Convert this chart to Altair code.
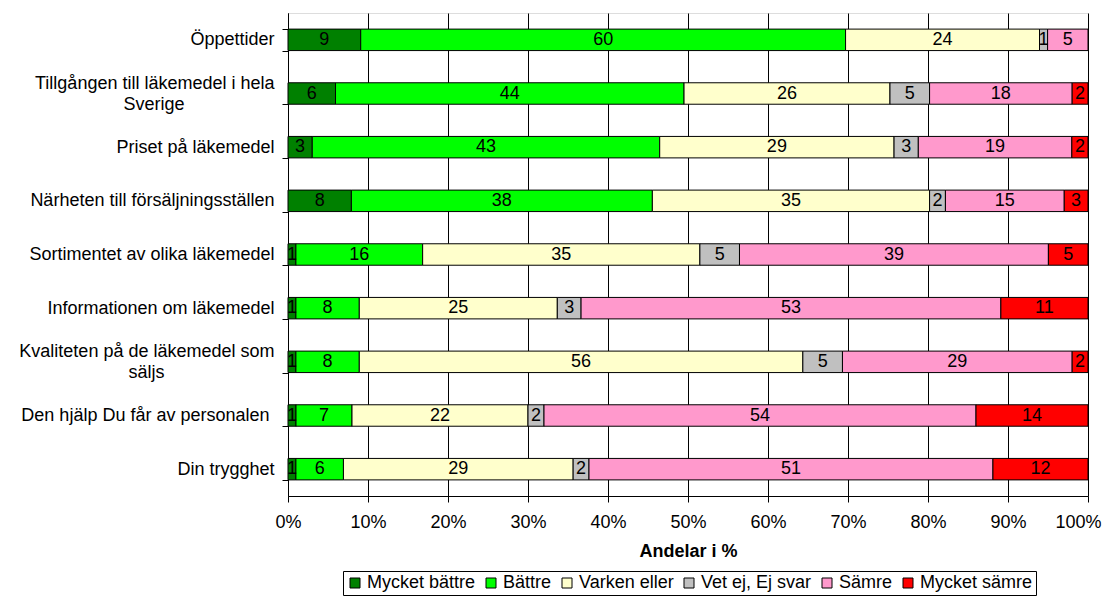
import altair as alt
import pandas as pd

NB = "\u00a0"
ZW = "\u200b"
FONT = "Liberation Sans"
FS = 18

categories = [
    "Öppettider",
    "Tillgången till läkemedel i hela\nSverige" + NB * 18 + ZW,
    "Priset på läkemedel",
    "Närheten till försäljningsställen",
    "Sortimentet av olika läkemedel",
    "Informationen om läkemedel",
    "Kvaliteten på de läkemedel som\nsäljs" + NB * 22 + ZW,
    "Den hjälp Du får av personalen" + NB + ZW,
    "Din trygghet",
]
series = ["Mycket bättre", "Bättre", "Varken eller", "Vet ej, Ej svar", "Sämre", "Mycket sämre"]
colors = ["#008000", "#00FF00", "#FFFFCC", "#C0C0C0", "#FF99CC", "#FF0000"]

mycket_battre = [9, 6, 3, 8, 1, 1, 1, 1, 1]
battre = [60, 44, 43, 38, 16, 8, 8, 7, 6]
varken_eller = [24, 26, 29, 35, 35, 25, 56, 22, 29]
vet_ej = [1, 5, 3, 2, 5, 3, 5, 2, 2]
samre = [5, 18, 19, 15, 39, 53, 29, 54, 51]
mycket_samre = [0, 2, 2, 3, 5, 11, 2, 14, 12]

x_ticks = [i / 10 for i in range(11)]

series_values = [mycket_battre, battre, varken_eller, vet_ej, samre, mycket_samre]
rows = []
for si, (name, vals) in enumerate(zip(series, series_values)):
    for ci, cat in enumerate(categories):
        rows.append({"category": cat, "series": name, "order": si, "value": vals[ci]})
df = pd.DataFrame(rows)

base = (
    alt.Chart(df)
    .transform_filter("datum.value > 0")
    .transform_stack(
        stack="value",
        groupby=["category"],
        as_=["x0", "x1"],
        offset="normalize",
        sort=[alt.SortField("order", order="ascending")],
    )
    .transform_calculate(mid="(datum.x0 + datum.x1) / 2")
)

multi_test = "isValid(datum.value) && indexof(datum.value, '\\n') >= 0"

y_scale = alt.Scale(domain=categories, paddingInner=0.6, paddingOuter=0.3)

y_enc = alt.Y(
    "category:N",
    sort=categories,
    scale=y_scale,
    axis=alt.Axis(
        title=None,
        labelExpr="isValid(datum.value) ? split(datum.value, '\\n') : ''",
        labelLineHeight=21,
        labelOffset={"condition": {"test": multi_test, "value": -10}, "value": 0},
        labelFont=FONT,
        labelFontSize=FS,
        labelColor="black",
        labelPadding=8,
        labelLimit=400,
        tickBand="extent",
        ticks=True,
        tickSize=6,
        tickColor="black",
        domainColor="black",
        grid=False,
    ),
)

x_scale = alt.Scale(domain=[0, 1], nice=False, zero=True)

bars = base.mark_bar(stroke="black", strokeWidth=1).encode(
    x=alt.X(
        "x0:Q",
        scale=x_scale,
        axis=alt.Axis(
            values=x_ticks,
            format=".0%",
            title="Andelar i %",
            titleFont=FONT,
            titleFontSize=FS,
            titleFontWeight="bold",
            titleColor="black",
            titlePadding=11,
            labelFont=FONT,
            labelFontSize=FS,
            labelColor="black",
            labelPadding=11,
            labelOffset={"condition": {"test": "datum.value >= 1", "value": -10}, "value": 0},
            tickSize=6,
            tickColor="black",
            domainColor="black",
            grid=True,
            gridColor="black",
            gridWidth=1,
            labelFlush=False,
        ),
    ),
    x2="x1:Q",
    y=y_enc,
    color=alt.Color(
        "series:N",
        scale=alt.Scale(domain=series, range=colors),
        sort=series,
        legend=alt.Legend(
            title=None,
            orient="none",
            legendX=55,
            legendY=558,
            direction="horizontal",
            columns=6,
            strokeColor="black",
            fillColor="white",
            padding=3,
            symbolType="square",
            symbolSize=100,
            symbolStrokeColor="black",
            symbolStrokeWidth=1,
            symbolOpacity=1,
            labelFont=FONT,
            labelFontSize=FS,
            labelColor="black",
            labelOffset=3,
            columnPadding=6,
        ),
    ),
)

labels = base.mark_text(
    font=FONT, fontSize=FS, color="black", align="center", baseline="middle"
).encode(
    x=alt.X("mid:Q", scale=x_scale),
    y=alt.Y("category:N", sort=categories, scale=y_scale),
    text=alt.Text("value:Q"),
)

chart = (
    alt.layer(bars, labels)
    .properties(
        width=800,
        height=483,
        autosize=alt.AutoSizeParams(type="none"),
        padding={"left": 280, "top": 5, "right": 16, "bottom": 101},
    )
    .configure_view(stroke="#808080", strokeWidth=1)
    .configure(background="white")
)

chart.save("out.html", embed_options={"renderer": "svg", "actions": False})
